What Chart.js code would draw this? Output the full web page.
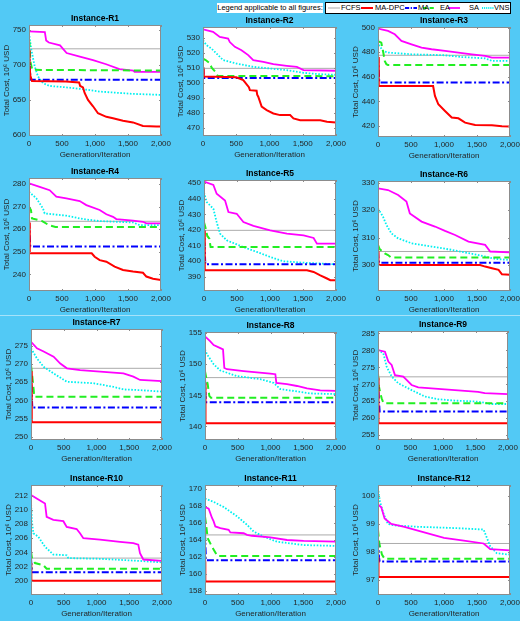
<!DOCTYPE html>
<html>
<head>
<meta charset="utf-8">
<script src="https://cdn.jsdelivr.net/npm/chart.js@4.4.0/dist/chart.umd.min.js"></script>
<style>
  body { margin: 0; width: 520px; height: 621px; background: #52c9f5; position: relative; overflow: hidden;
         font-family: "Liberation Sans", Arial, sans-serif; }
  canvas { position: absolute; }
  #note { position: absolute; left: 217px; top: 3px; width: 106px; height: 10px; background: #fff;
          font-size: 7.5px; line-height: 10px; text-align: center; white-space: nowrap; color: #000; }
  #legend { position: absolute; left: 325px; top: 2px; width: 184px; height: 10px; background: #fff;
            border: 1px solid #000; }
  #legend span { position: absolute; top: 0; font-size: 7.5px; line-height: 10px; color: #000; white-space: nowrap; }
  #legend svg { position: absolute; left: 0; top: 0; }
  #sep { position: absolute; left: 0; top: 315px; width: 520px; height: 1px; background: #a6e2f9; }
</style>
</head>
<body>
<div id="note">Legend applicable to all figures:</div>
<div id="legend"></div>
<div id="sep"></div>
<script>
// ---- data ----
const instances = ['Instance-R1', 'Instance-R2', 'Instance-R3', 'Instance-R4', 'Instance-R5', 'Instance-R6',
                   'Instance-R7', 'Instance-R8', 'Instance-R9', 'Instance-R10', 'Instance-R11', 'Instance-R12'];
const algorithms = ['FCFS', 'MA-DPC', 'MA', 'EA', 'SA', 'VNS'];
const xTicks = [0, 500, 1000, 1500, 2000];
const yTicks = [
  [600, 650, 700, 750], [470, 480, 490, 500, 510, 520, 530], [420, 440, 460, 480, 500],
  [240, 250, 260, 270, 280], [390, 400, 410, 420, 430, 440, 450], [300, 310, 320, 330],
  [250, 255, 260, 265, 270, 275], [140, 145, 150, 155], [255, 260, 265, 270, 275, 280, 285],
  [200, 202, 204, 206, 208, 210, 212], [158, 160, 162, 164, 166, 168, 170], [97, 98, 99, 100]
];
const yMin = [598.6, 464.5, 411, 232.6, 381, 290.5, 249.1, 137.8, 253.6, 198, 157.5, 96.45];
const yMax = [757, 537, 500.5, 282.7, 452, 330.6, 279.6, 155.2, 285.7, 213.5, 170.5, 100.4];

// FCFS is a single value per instance
const fcfs = [723, 509.5, 477.5, 263.5, 419.8, 304.9, 268.8, 147.85, 272.2, 203.2, 164.6, 98.3];

// convergence curves: [iteration, cost] per instance
const maDpc = [
  [[0,722],[8,700],[20,685],[45,677],[560,676.5],[760,675],[775,670],[818,668],[843,660],[894,650],[970,641],[1045,631],[1172,626],[1273,624],[1424,620.5],[1576,618],[1727,613],[1929,612],[2000,612]],
  [[0,510],[8,505],[15,504],[500,503.5],[605,501.7],[690,497],[705,495],[806,494.6],[815,492],[831,490.6],[882,484],[957,481.7],[1058,479.5],[1159,478.4],[1310,478.4],[1360,476.2],[1461,475],[1763,475],[1864,474],[2000,473.5]],
  [[0,476],[8,460],[15,452.5],[835,452.5],[863,444.4],[914,437.6],[1015,432.2],[1117,426.8],[1218,426.2],[1320,422.7],[1472,420.8],[1726,420.5],[1878,419.7],[2000,419.5]],
  [[0,263],[8,255],[15,249.3],[950,249.3],[995,247.8],[1071,246.3],[1172,245.6],[1298,243.4],[1424,241.9],[1576,241.2],[1727,240.7],[1778,239],[1879,238],[2000,237.5]],
  [[0,420],[8,405],[15,394.3],[1560,394.3],[1661,393.2],[1762,391],[1863,389],[1914,387.9],[2000,387.9]],
  [[0,305],[5,302],[10,300],[1548,300],[1624,299.4],[1726,298.8],[1827,298.2],[1878,296.6],[2000,296.4]],
  [[0,268],[8,260],[15,254],[2000,254]],
  [[0,147],[5,143],[10,140.5],[2000,140.5]],
  [[0,272],[5,265],[10,258.5],[2000,258.5]],
  [[0,202.5],[5,200],[2000,200]],
  [[0,161.5],[5,159.1],[2000,159.1]],
  [[0,97.8],[5,97.2],[10,97.1],[2000,97.1]]
];
const ma = [
  [[0,722],[10,700],[20,683],[30,679],[2000,679]],
  [[0,510],[10,505],[20,503],[2000,503]],
  [[0,477],[10,465],[20,455.3],[2000,455.3]],
  [[0,263.5],[10,257],[20,252.3],[2000,252.3]],
  [[0,421],[10,408],[20,398.1],[2000,398.1]],
  [[0,305],[8,302],[15,300.8],[2000,300.8]],
  [[0,268],[10,262],[20,258],[2000,258]],
  [[0,147.8],[8,145],[15,143.9],[2000,143.9]],
  [[0,272],[12,266],[25,262],[2000,262]],
  [[0,203.2],[8,202],[15,201.2],[2000,201.2]],
  [[0,164.8],[8,163],[15,161.6],[2000,161.6]],
  [[0,98.4],[15,97.8],[25,97.65],[2000,97.65]]
];
const ea = [
  [[0,736],[10,728],[20,705],[50,693],[2000,692]],
  [[0,516],[40,515],[100,513],[130,510],[190,507],[220,504.5],[2000,504.3]],
  [[0,489],[50,487.8],[76,481],[102,472.9],[127,470.2],[150,469.6],[2000,469.6]],
  [[0,270],[30,268.5],[45,264.8],[200,263.6],[300,261.8],[400,261],[2000,261]],
  [[0,425],[20,422],[50,416.2],[81,414.5],[100,409.1],[2000,409.1]],
  [[0,307.3],[25,305.8],[102,304.2],[152,303.6],[200,302.7],[2000,302.7]],
  [[0,269.7],[20,266.5],[41,262.8],[50,261],[2000,261]],
  [[0,148.9],[20,147.8],[41,146.8],[66,144.9],[90,144.6],[2000,144.6]],
  [[0,273.2],[15,269.3],[31,267.8],[56,265.9],[82,264.6],[100,264.4],[2000,264.4]],
  [[0,204.1],[15,203.2],[61,202.5],[188,202.2],[239,201.7],[2000,201.7]],
  [[0,166.8],[20,165.6],[41,164.2],[107,163.2],[183,162.2],[200,162.1],[2000,162.1]],
  [[0,98.8],[20,98.3],[60,97.9],[100,97.75],[2000,97.75]]
];
const sa = [
  [[0,748],[240,747],[260,735],[300,732],[470,728],[570,717],[770,712],[970,707],[1170,701],[1370,694],[1580,692],[1600,690],[2000,690]],
  [[0,535.5],[151,533.8],[252,530.4],[378,529.3],[403,527],[479,523.8],[579,521.6],[680,518.3],[756,515],[907,513.8],[1058,512.3],[1259,511.2],[1411,510.5],[1511,508.3],[2000,507.9]],
  [[0,499.2],[152,497.3],[254,494.6],[355,489.2],[508,486.4],[660,483.7],[812,482.4],[1015,481],[1218,479.7],[1421,478.3],[1624,477],[1726,475.6],[2000,475.6]],
  [[0,280.3],[162,278.8],[313,277.3],[414,274.4],[566,273.7],[768,272.5],[869,270.7],[1071,268.5],[1172,266.6],[1273,265.5],[1323,264.5],[1576,263.8],[1727,263.3],[1778,262.6],[2000,262.6]],
  [[0,451],[142,448.9],[192,443.2],[319,438.9],[370,431.5],[496,430.4],[597,425.1],[749,422.6],[1003,419.8],[1256,417.7],[1509,416.6],[1661,414.9],[1711,411.3],[2000,411.3]],
  [[0,327.9],[152,327.3],[305,325.5],[431,323.1],[482,318.8],[660,315.8],[863,314],[1015,312.4],[1168,310.9],[1371,308.5],[1624,307.3],[1700,304.9],[2000,304.6]],
  [[0,276.1],[91,274.3],[193,273.4],[345,272],[447,270.1],[548,268.8],[751,268.3],[1056,267.9],[1411,267.4],[1563,266.5],[1665,265.6],[2000,265.3]],
  [[0,154.5],[81,153.7],[132,153.1],[234,152.6],[275,152.4],[295,149.4],[336,149.2],[590,148.9],[997,148.5],[1074,148.4],[1089,147],[1252,146.8],[1405,146.5],[1557,146.1],[1760,145.8],[2000,145.7]],
  [[0,280.1],[107,279.6],[159,276.7],[210,275.7],[235,274.2],[261,272.7],[389,272.3],[440,271.3],[517,269.8],[619,269.1],[823,268.8],[1182,268.3],[1540,267.8],[1642,267.4],[2000,267.1]],
  [[0,212.1],[87,211.6],[214,210.9],[239,209],[341,208.6],[494,208.4],[545,207.6],[697,207.3],[748,206.7],[799,206],[1053,205.8],[1359,205.5],[1562,205.3],[1638,205.1],[1664,203.9],[1715,203],[2000,202.8]],
  [[0,167.9],[56,167.7],[107,166.6],[132,166.2],[158,165.6],[234,165.4],[361,165.2],[387,164.9],[590,164.8],[641,164.6],[717,164.5],[997,164.3],[1252,164],[1506,163.9],[2000,163.8]],
  [[0,99.7],[50,99.6],[100,99.2],[200,99.0],[400,98.9],[700,98.7],[1000,98.5],[1300,98.4],[1600,98.3],[1700,98.1],[2000,98.05]]
];
const vns = [
  [[0,745.7],[35,722],[86,698],[136,683.6],[212,674],[313,670],[566,668],[818,665.4],[1071,662],[1576,658.7],[2000,657.3]],
  [[0,528.2],[50,525],[126,522.7],[202,519.4],[302,515],[504,512.7],[756,510.5],[1008,509.4],[1259,508.3],[1511,506.5],[1763,505.6],[2000,505.2]],
  [[0,491.3],[25,485],[76,481],[152,479.7],[508,478.3],[1015,477.5],[1269,476.1],[1624,475],[1726,472.9],[2000,472.9]],
  [[0,276.6],[111,273.7],[212,269.2],[237,267],[566,266],[818,264.5],[1071,263.6],[1576,263],[1677,261.8],[2000,261.8]],
  [[0,444],[41,437.9],[142,433.6],[192,425.1],[243,417.7],[344,413.4],[597,409.1],[800,406],[1003,402.8],[1205,400],[1509,399.1],[2000,398.1]],
  [[0,320.6],[76,317.6],[127,314.6],[203,311.5],[305,309.7],[508,307.9],[812,306.7],[1117,305.5],[1523,303.6],[1777,302.2],[2000,301.8]],
  [[0,274.3],[91,271.5],[193,269.2],[345,267.4],[548,265.1],[954,264.7],[1259,263.7],[1411,263],[1665,262.8],[2000,262.4]],
  [[0,152.4],[31,151.6],[132,150],[234,149],[489,148.1],[845,147.6],[1048,147],[1150,146],[1354,145.7],[1608,145.3],[2000,145.2]],
  [[0,280.1],[82,279.1],[133,275.2],[210,272.3],[312,270.3],[517,268.3],[721,266.4],[926,265.6],[1182,265.2],[1540,264.9],[1744,264.2],[2000,264.2]],
  [[0,211.2],[15,208.3],[36,206.7],[112,206.2],[214,204.8],[341,203.7],[545,203.6],[570,203.2],[1053,203.1],[1664,202.8],[2000,202.6]],
  [[0,168.9],[132,168.5],[285,167.9],[489,166.8],[641,165.8],[743,165],[895,164.4],[1099,163.8],[1303,163.6],[1506,163.4],[2000,163.3]],
  [[0,100.3],[30,99.8],[80,99.4],[150,99.0],[250,98.95],[600,98.9],[1200,98.85],[1600,98.8],[1700,98.2],[1800,97.95],[2000,97.9]]
];

// ---- layout: plot-area boxes [left, top, right, bottom] in page pixels ----
const plotBoxes = [
  [29, 25, 161, 136], [203, 27, 336, 136], [378, 27, 510, 137],
  [29, 178, 161, 291], [204, 180, 336, 291], [378, 181, 510, 291],
  [31, 329, 162, 440], [205, 332, 336, 440], [378, 331, 508, 440],
  [31, 485, 162, 595], [205, 485, 336, 595], [378, 485, 510, 595]
];
const padL = 30, padT = 14, padR = 14, padB = 26;

const styles = {
  'FCFS':   { color: '#ababab', width: 1,   dash: [] },
  'MA-DPC': { color: '#ff0000', width: 2,   dash: [] },
  'MA':     { color: '#0000ff', width: 2,   dash: [7, 2.5, 2, 2.5] },
  'EA':     { color: '#22ee22', width: 2,   dash: [7, 4] },
  'SA':     { color: '#ff00ff', width: 1.8, dash: [] },
  'VNS':    { color: '#00f0f0', width: 1.8, dash: [1.6, 1.6] }
};

const fontFamily = '"Liberation Sans", Arial, sans-serif';

const panelPlugin = {
  id: 'panel',
  beforeDraw(chart) {
    const a = chart.chartArea, c = chart.ctx;
    c.save();
    c.fillStyle = '#fff';
    c.fillRect(a.left, a.top, a.right - a.left, a.bottom - a.top);
    c.restore();
  },
  afterDraw(chart, args, opts) {
    const a = chart.chartArea, c = chart.ctx;
    c.save();
    c.strokeStyle = '#8c8c8c';
    c.lineWidth = 1;
    c.strokeRect(a.left + 0.5, a.top + 0.5, a.right - a.left - 1, a.bottom - a.top - 1);
    c.beginPath();
    chart.scales.x.ticks.forEach(t => {
      const px = Math.round(chart.scales.x.getPixelForValue(t.value)) + 0.5;
      c.moveTo(px, a.bottom); c.lineTo(px, a.bottom - 2);
      c.moveTo(px, a.top); c.lineTo(px, a.top + 2);
    });
    chart.scales.y.ticks.forEach(t => {
      const py = Math.round(chart.scales.y.getPixelForValue(t.value)) + 0.5;
      c.moveTo(a.left, py); c.lineTo(a.left + 2, py);
      c.moveTo(a.right, py); c.lineTo(a.right - 2, py);
    });
    c.stroke();
    c.fillStyle = '#000';
    c.font = 'bold 8.5px ' + fontFamily;
    c.textAlign = 'center';
    c.textBaseline = 'middle';
    c.fillText(opts.title, (a.left + a.right) / 2, a.top - 6);
    c.restore();
  }
};

function toPoints(pairs) {
  return pairs.map(p => ({ x: p[0], y: p[1] }));
}

function makeDataset(name, pairs) {
  const s = styles[name];
  return {
    label: name,
    data: toPoints(pairs),
    borderColor: s.color,
    borderWidth: s.width,
    borderDash: s.dash,
    pointRadius: 0,
    fill: false,
    tension: 0
  };
}

instances.forEach((name, i) => {
  const [l, t, r, b] = plotBoxes[i];
  const cv = document.createElement('canvas');
  const w = r - l + padL + padR, h = b - t + padT + padB;
  cv.width = w; cv.height = h;
  cv.style.left = (l - padL) + 'px';
  cv.style.top = (t - padT) + 'px';
  cv.style.width = w + 'px';
  cv.style.height = h + 'px';
  document.body.appendChild(cv);

  const datasets = [
    makeDataset('MA-DPC', maDpc[i]),
    makeDataset('MA', ma[i]),
    makeDataset('EA', ea[i]),
    makeDataset('SA', sa[i]),
    makeDataset('VNS', vns[i]),
    makeDataset('FCFS', [[0, fcfs[i]], [2000, fcfs[i]]])
  ];

  new Chart(cv, {
    type: 'line',
    data: { datasets },
    plugins: [panelPlugin],
    options: {
      responsive: false,
      animation: false,
      events: [],
      layout: { padding: { top: padT, right: padR, left: 0, bottom: 0 } },
      plugins: {
        legend: { display: false },
        tooltip: { enabled: false },
        title: { display: false },
        panel: { title: name }
      },
      scales: {
        x: {
          type: 'linear', min: 0, max: 2000,
          grid: { display: false, drawTicks: false },
          border: { display: false },
          afterBuildTicks: s => { s.ticks = xTicks.map(v => ({ value: v })); },
          afterFit: s => { s.height = padB; s.paddingLeft = 0; s.paddingRight = 0; },
          ticks: {
            padding: 3, color: '#262626', maxRotation: 0, autoSkip: false,
            font: { family: fontFamily, size: 8 },
            callback: v => v.toLocaleString('en-US')
          },
          title: {
            display: true, text: 'Generation/Iteration', color: '#262626',
            font: { family: fontFamily, size: 8 }, padding: { top: 0, bottom: 2.2 }
          }
        },
        y: {
          type: 'linear', min: yMin[i], max: yMax[i],
          grid: { display: false, drawTicks: false },
          border: { display: false },
          afterBuildTicks: s => { s.ticks = yTicks[i].map(v => ({ value: v })); },
          afterFit: s => { s.width = padL; s.paddingTop = 0; s.paddingBottom = 0; },
          ticks: {
            padding: 3, color: '#262626', autoSkip: false,
            font: { family: fontFamily, size: 8 }
          },
          title: {
            display: true, text: 'Total Cost, 10\u2076 USD', color: '#262626',
            font: { family: fontFamily, size: 8 }, padding: { top: 3.2, bottom: 0 }
          }
        }
      }
    }
  });
});

// ---- shared legend (HTML) ----
const legendPos = { 'FCFS': [2, 15], 'MA-DPC': [35, 49], 'MA': [79, 92], 'EA': [97, 114], 'SA': [122, 143], 'VNS': [156, 168] };
const legend = document.getElementById('legend');
const svgNS = 'http://www.w3.org/2000/svg';
const svg = document.createElementNS(svgNS, 'svg');
svg.setAttribute('width', 184); svg.setAttribute('height', 10);
legend.appendChild(svg);
algorithms.forEach(a => {
  const s = styles[a];
  const [lx, tx] = legendPos[a];
  const ln = document.createElementNS(svgNS, 'line');
  ln.setAttribute('x1', lx); ln.setAttribute('x2', lx + 12);
  ln.setAttribute('y1', 5); ln.setAttribute('y2', 5);
  ln.setAttribute('stroke', s.color);
  ln.setAttribute('stroke-width', s.width);
  if (s.dash.length) ln.setAttribute('stroke-dasharray', s.dash.map(d => d * 0.6).join(' '));
  svg.appendChild(ln);
  const sp = document.createElement('span');
  sp.textContent = a;
  sp.style.left = tx + 'px';
  legend.appendChild(sp);
});
</script>
</body>
</html>
